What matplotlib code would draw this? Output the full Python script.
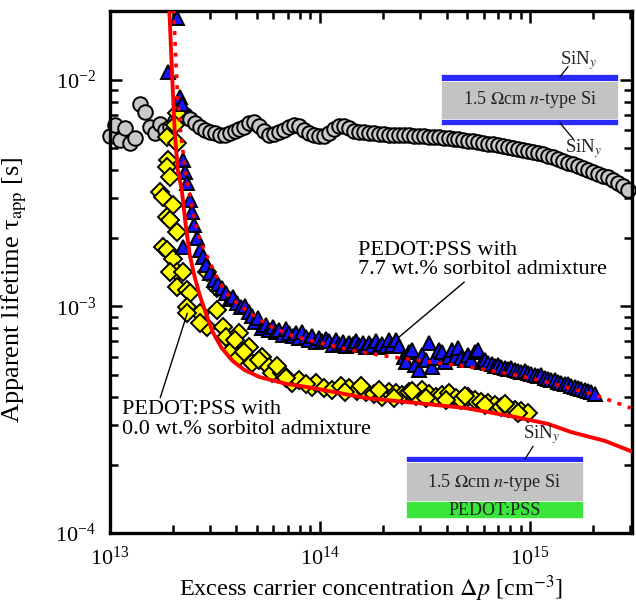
import matplotlib

matplotlib.use("Agg")
import matplotlib.pyplot as plt
import numpy as np
from matplotlib.patches import Rectangle
from matplotlib.ticker import LogLocator, LogFormatterMathtext, NullFormatter

plt.rcParams["font.family"] = ["Liberation Serif", "DejaVu Serif"]
plt.rcParams["mathtext.fontset"] = "stix"

# reference wafer, SiNy on both sides (dp in cm^-3, tau in s)
dp_ref = np.array([
    1.000, 1.056, 1.115, 1.178, 1.244, 1.314, 1.387, 1.465, 1.547, 1.634,
    1.726, 1.823, 1.925, 2.033, 2.147, 2.267, 2.394, 2.529, 2.670, 2.821,
    2.978, 3.146, 3.322, 3.509, 3.705, 3.914, 4.132, 4.365, 4.608, 4.868,
    5.140, 5.430, 5.732, 6.056, 6.393, 6.754, 7.131, 7.533, 7.953, 8.402,
    8.870, 9.370, 9.890, 10.45, 11.03, 11.65, 12.30, 13.00, 13.72, 14.50,
    15.30, 16.17, 17.07, 18.03, 19.04, 20.11, 21.23, 22.43, 23.68, 25.02,
    26.41, 27.90, 29.46, 31.12, 32.85, 34.71, 36.64, 38.71, 40.87, 43.17,
    45.58, 48.15, 50.84, 53.71, 56.70, 59.90, 63.23, 66.81, 70.53, 74.51,
    78.66, 83.11, 87.73, 92.70, 97.80, 103.4, 109.1, 115.3, 121.7, 128.6,
    135.7, 143.4, 151.4, 160.0, 168.8, 178.4, 188.3, 199.0, 210.0, 221.9,
    234.2, 247.5, 261.2, 276.1, 291.4,
]) * 1e13
tau_ref = np.array([
    5.66, 6.33, 5.43, 6.14, 5.27, 5.55, 7.84, 7.22, 6.21, 5.84,
    6.40, 6.02, 6.21, 6.59, 6.80, 7.01, 6.73, 6.46, 6.21, 6.02,
    5.90, 5.84, 5.72, 5.72, 5.84, 5.96, 6.08, 6.21, 6.46, 6.53,
    6.27, 5.96, 5.72, 5.78, 5.90, 6.02, 6.21, 6.33, 6.27, 6.02,
    5.84, 5.72, 5.66, 5.66, 5.84, 6.08, 6.27, 6.27, 6.14, 5.96,
    5.90, 5.90, 5.84, 5.84, 5.78, 5.78, 5.72, 5.72, 5.72, 5.72,
    5.72, 5.66, 5.66, 5.66, 5.60, 5.60, 5.60, 5.55, 5.55, 5.49,
    5.49, 5.43, 5.38, 5.38, 5.32, 5.27, 5.21, 5.21, 5.16, 5.11,
    5.06, 5.01, 4.96, 4.91, 4.86, 4.81, 4.76, 4.71, 4.62, 4.57,
    4.48, 4.39, 4.30, 4.26, 4.17, 4.09, 4.01, 3.93, 3.85, 3.77,
    3.70, 3.62, 3.51, 3.41, 3.27,
]) * 1e-3

# PEDOT:PSS with 0.0 wt.% sorbitol
dp_00 = np.array([
    2.078, 2.033, 1.863, 2.078, 1.883, 1.863, 1.925, 1.726, 1.783, 1.989,
    1.863, 1.925, 2.078, 1.783, 1.863, 1.989, 2.078, 1.925, 2.218, 2.078,
    2.317, 2.394, 2.883, 3.215, 2.317, 2.670, 3.215, 2.883, 3.432, 2.670,
    2.317, 3.828, 3.550, 4.132, 4.608, 4.132, 4.760, 5.310, 5.140, 5.732,
    5.924, 6.606, 7.368, 7.953, 9.170, 9.573, 10.45, 11.40, 12.58, 13.72,
    14.97, 16.52, 18.03, 19.67, 21.23, 22.92, 24.47, 26.41, 28.51, 30.43,
    32.85, 35.46, 37.86, 40.87, 44.12, 47.10, 50.84, 54.87, 58.60, 63.23,
    68.26, 72.87, 78.66, 84.90, 90.63, 97.80, 13.14, 15.64, 19.04, 22.43,
    27.29, 31.80, 39.56, 49.19, 61.19, 76.13, 87.73, 6.900, 8.580, 6.255,
    4.365, 3.914,
]) * 1e13
tau_00 = np.array([
    7.15, 6.33, 5.60, 5.27, 4.44, 4.13, 3.73, 3.18, 3.04, 2.81,
    2.48, 2.41, 2.13, 1.83, 1.78, 1.61, 1.41, 1.41, 1.41, 1.22,
    1.18, 1.15, 1.41, 1.20, 0.995, 0.936, 0.965, 0.812, 0.812, 0.846,
    0.936, 0.643, 0.733, 0.763, 0.663, 0.598, 0.563, 0.598, 0.580, 0.541,
    0.508, 0.508, 0.459, 0.474, 0.441, 0.459, 0.437, 0.428, 0.446, 0.437,
    0.424, 0.420, 0.411, 0.399, 0.420, 0.415, 0.407, 0.420, 0.403, 0.428,
    0.411, 0.399, 0.407, 0.415, 0.395, 0.387, 0.399, 0.387, 0.379, 0.375,
    0.367, 0.360, 0.356, 0.349, 0.346, 0.339, 0.420, 0.446, 0.428, 0.395,
    0.424, 0.395, 0.387, 0.403, 0.367, 0.371, 0.339, 0.483, 0.455, 0.546,
    0.630, 0.711,
]) * 1e-3

# PEDOT:PSS with 7.7 wt.% sorbitol
dp_77 = np.array([
    1.883, 2.078, 2.147, 2.194, 2.218, 2.267, 2.317, 2.394, 2.447, 2.501,
    2.585, 2.218, 2.670, 2.760, 2.851, 2.978, 3.110, 3.250, 3.395, 3.550,
    3.705, 3.870, 4.040, 4.220, 4.410, 4.608, 4.760, 4.920, 5.080, 5.310,
    5.550, 5.732, 5.990, 6.190, 6.393, 6.680, 6.900, 7.131, 7.450, 7.700,
    7.953, 8.220, 8.580, 8.870, 9.170, 9.573, 9.890, 10.22, 10.68, 11.03,
    11.52, 11.91, 12.30, 12.85, 13.28, 13.72, 14.33, 14.81, 15.30, 15.99,
    16.52, 17.07, 17.64, 18.42, 19.04, 19.67, 20.55, 21.23, 21.94, 22.92,
    23.68, 25.02, 25.56, 26.41, 27.29, 28.20, 29.46, 30.43, 31.80, 32.85,
    33.95, 35.08, 36.64, 37.86, 39.12, 40.87, 42.23, 44.12, 45.58, 47.10,
    49.19, 50.84, 52.52, 54.87, 56.70, 59.23, 61.19, 63.23, 66.05, 68.26,
    70.53, 72.87, 76.13, 78.66, 81.28, 84.90, 87.73, 90.63, 94.70, 97.80,
    101.1, 105.6, 109.1, 112.8, 117.8, 121.7, 125.8, 131.3, 135.7, 140.3,
    146.5, 151.4, 156.4, 163.4, 168.8, 174.5, 182.3, 188.3, 194.6, 203.3,
]) * 1e13
tau_77 = np.array([
    10.85, 18.78, 8.41, 7.84, 4.44, 3.93, 3.51, 2.95, 2.61, 2.29,
    2.01, 1.83, 1.776, 1.655, 1.525, 1.406, 1.309, 1.257, 1.207, 1.147,
    1.079, 1.101, 1.036, 0.995, 1.005, 0.945, 0.908, 0.854, 0.890, 0.804,
    0.828, 0.787, 0.812, 0.771, 0.787, 0.748, 0.795, 0.763, 0.741, 0.763,
    0.726, 0.771, 0.733, 0.711, 0.741, 0.697, 0.726, 0.704, 0.718, 0.704,
    0.676, 0.711, 0.683, 0.697, 0.670, 0.690, 0.683, 0.704, 0.676, 0.690,
    0.663, 0.690, 0.670, 0.704, 0.663, 0.683, 0.670, 0.711, 0.676, 0.711,
    0.670, 0.598, 0.569, 0.630, 0.643, 0.552, 0.524, 0.611, 0.580, 0.690,
    0.541, 0.592, 0.643, 0.630, 0.569, 0.598, 0.643, 0.605, 0.656, 0.592,
    0.580, 0.611, 0.580, 0.630, 0.643, 0.569, 0.580, 0.563, 0.557, 0.546,
    0.552, 0.541, 0.535, 0.530, 0.535, 0.524, 0.519, 0.514, 0.519, 0.508,
    0.503, 0.498, 0.493, 0.498, 0.483, 0.479, 0.474, 0.474, 0.464, 0.459,
    0.455, 0.455, 0.446, 0.441, 0.437, 0.432, 0.428, 0.424, 0.420, 0.411,
]) * 1e-3

# model curves
dp_fit_00 = np.array([
    1.883, 1.925, 1.967, 2.033, 2.101, 2.194, 2.292, 2.394, 2.528, 2.670,
    2.820, 3.077, 3.395, 3.828, 4.364, 5.140, 6.900, 9.170, 12.30, 16.52,
    28.51, 49.19, 84.90, 121.7, 156.4, 226.8, 301.0,
]) * 1e13
tau_fit_00 = np.array([
    25.0, 18.4, 11.4, 5.83, 4.01, 3.27, 2.29, 1.69, 1.35, 1.124,
    0.965, 0.772, 0.656, 0.575, 0.524, 0.488, 0.455, 0.437, 0.415, 0.394,
    0.375, 0.356, 0.325, 0.303, 0.279, 0.255, 0.230,
]) * 1e-3

dp_fit_77 = np.array([
    2.011, 2.055, 2.101, 2.170, 2.267, 2.368, 2.501, 2.670, 2.978, 3.322,
    3.705, 4.608, 5.732, 7.368, 9.573, 11.91, 15.30, 21.94, 32.85, 50.84,
    84.90, 109.1, 146.5, 203.3, 301.0,
]) * 1e13
tau_fit_77 = np.array([
    20.4, 12.3, 8.16, 5.83, 4.21, 3.27, 2.535, 1.966, 1.572, 1.270,
    1.101, 0.936, 0.820, 0.741, 0.697, 0.663, 0.630, 0.598, 0.569, 0.541,
    0.498, 0.474, 0.441, 0.407, 0.356,
]) * 1e-3

fig = plt.figure(figsize=(6.36, 6.03), dpi=100)
ax = fig.add_axes([0.173, 0.116, 0.821, 0.866])

ax.plot(dp_ref, tau_ref, "o", ms=10.5, mfc="#c8c8c8", mec="black", mew=1.4, zorder=2, clip_on=False)
ax.plot(dp_00, tau_00, "D", ms=9.5, mfc="#ffff00", mec="black", mew=1.4, zorder=3)
ax.plot(dp_77, tau_77, "^", ms=10.5, mfc="#1414ff", mec="black", mew=1.4, zorder=4)
ax.plot(dp_fit_00, tau_fit_00, "-", color="#ff0000", lw=2.8, zorder=5)
ax.plot(dp_fit_77, tau_fit_77, color="#ff0000", lw=2.6, ls=(0, (1.1, 1.9)), zorder=5)

ax.set_xscale("log")
ax.set_yscale("log")
ax.set_xlim(1e13, 3.06e15)
ax.set_ylim(1e-4, 2.01e-2)

for axis in (ax.xaxis, ax.yaxis):
    axis.set_major_locator(LogLocator(base=10))
    axis.set_minor_locator(LogLocator(base=10, subs=np.arange(2, 10)))
    axis.set_major_formatter(LogFormatterMathtext())
    axis.set_minor_formatter(NullFormatter())

ax.tick_params(which="both", direction="in", top=True, right=True, width=1.8, labelsize=16)
ax.tick_params(which="major", length=8.5, pad=10)
ax.tick_params(which="minor", length=5.5)
for spine in ax.spines.values():
    spine.set_linewidth(2.4)

ax.set_xlabel(r"Excess carrier concentration $\Delta p$ [cm$^{-3}$]", fontsize=17.5, labelpad=2)
ax.set_ylabel(r"Apparent lifetime τ$_{\rm app}$ [s]", fontsize=19)
ax.yaxis.set_label_coords(-0.155, 0.466)

# annotations for the two PEDOT:PSS samples
ax.annotate("PEDOT:PSS with\n7.7 wt.% sorbitol admixture", xy=(0.552, 0.374), xytext=(0.475, 0.523),
            xycoords="axes fraction", textcoords="axes fraction", fontsize=16, va="center", ha="left",
            linespacing=1.05, arrowprops=dict(arrowstyle="-", lw=1.0, color="black", shrinkA=0, shrinkB=0,
                                              relpos=(0.44, 0.0)))
ax.annotate("PEDOT:PSS with\n0.0 wt.% sorbitol admixture", xy=(0.148, 0.421), xytext=(0.023, 0.217),
            xycoords="axes fraction", textcoords="axes fraction", fontsize=16, va="center", ha="left",
            linespacing=1.05, arrowprops=dict(arrowstyle="-", lw=1.0, color="black", shrinkA=0, shrinkB=0,
                                              relpos=(0.15, 1.0)))


def layer(x0, x1, y0, y1, color):
    ax.add_patch(Rectangle((x0, y0), x1 - x0, y1 - y0, transform=ax.transAxes, facecolor=color,
                           edgecolor="white", lw=0.5, zorder=6))


# sketch of the symmetric reference sample
layer(0.634, 0.973, 0.866, 0.879, "#2a2aff")
layer(0.634, 0.973, 0.793, 0.866, "#c3c3c3")
layer(0.634, 0.973, 0.782, 0.793, "#2a2aff")
ax.text(0.804, 0.830, r"1.5 $\Omega$cm $n$-type Si", transform=ax.transAxes, fontsize=13,
        ha="center", va="center", color="#222222", zorder=7)
ax.text(0.897, 0.905, r"SiN$_y$", transform=ax.transAxes, fontsize=13.5, ha="center", va="center",
        color="#222222", zorder=7)
ax.plot([0.877, 0.862], [0.893, 0.874], transform=ax.transAxes, color="black", lw=0.9, zorder=7)
ax.text(0.906, 0.737, r"SiN$_y$", transform=ax.transAxes, fontsize=13.5, ha="center", va="center",
        color="#222222", zorder=7)
ax.plot([0.862, 0.887], [0.785, 0.755], transform=ax.transAxes, color="black", lw=0.9, zorder=7)

# sketch of the PEDOT:PSS sample
layer(0.567, 0.906, 0.136, 0.148, "#2a2aff")
layer(0.567, 0.906, 0.061, 0.136, "#c3c3c3")
layer(0.567, 0.906, 0.029, 0.061, "#3ae63a")
ax.text(0.736, 0.097, r"1.5 $\Omega$cm $n$-type Si", transform=ax.transAxes, fontsize=13,
        ha="center", va="center", color="#222222", zorder=7)
ax.text(0.736, 0.044, "PEDOT:PSS", transform=ax.transAxes, fontsize=13, ha="center", va="center",
        color="#222222", zorder=7)
ax.text(0.826, 0.188, r"SiN$_y$", transform=ax.transAxes, fontsize=13.5, ha="center", va="center",
        color="#222222", zorder=7)
ax.plot([0.810, 0.795], [0.166, 0.142], transform=ax.transAxes, color="black", lw=0.9, zorder=7)

fig.savefig("out.png", dpi=100)
